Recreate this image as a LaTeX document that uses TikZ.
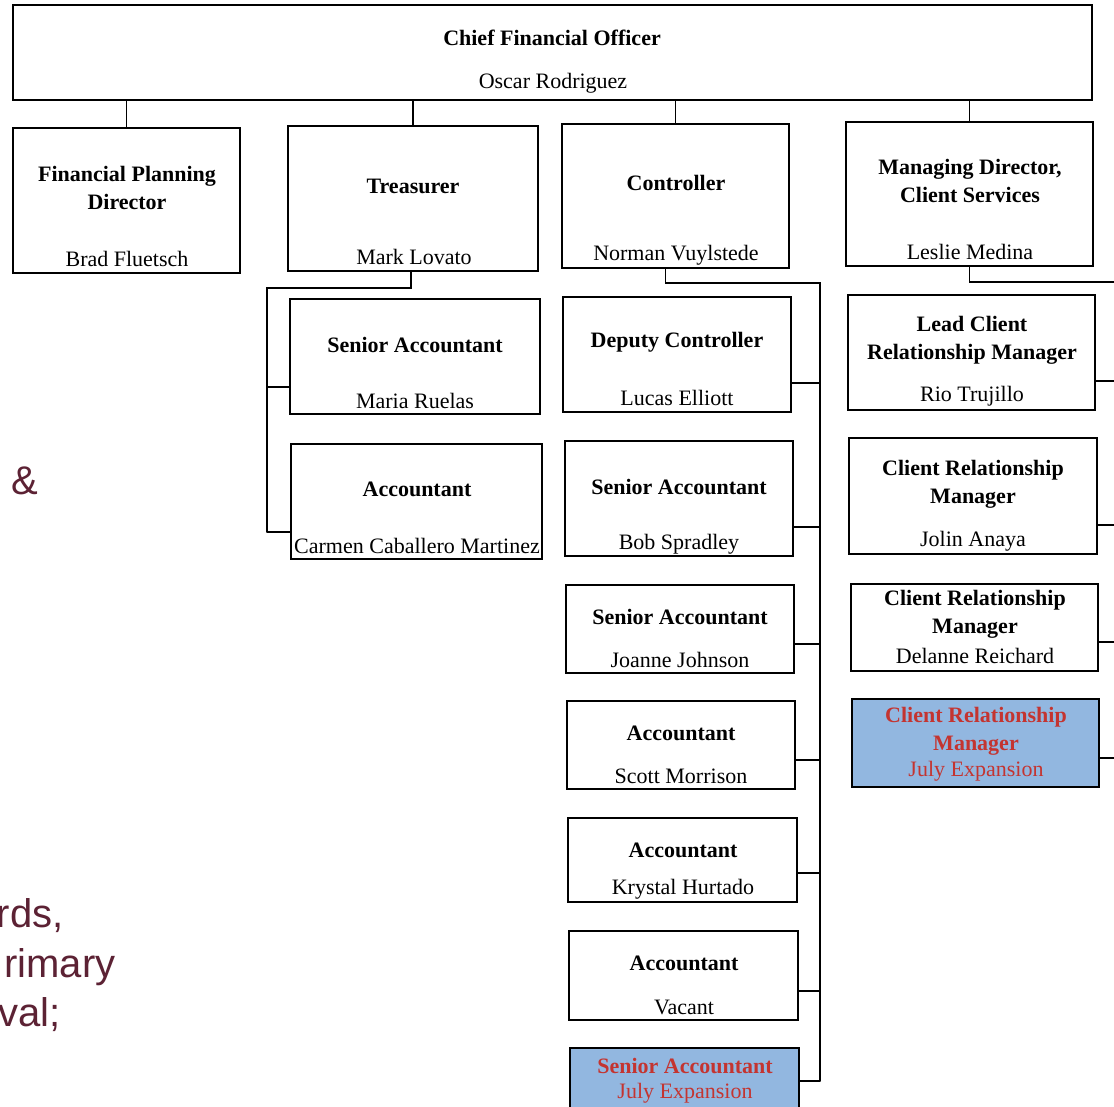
\documentclass[tikz,border=0pt]{standalone}
\usepackage{fontspec}
\setmainfont{Liberation Serif}
\newfontfamily\slidefont{Liberation Sans}

\begin{document}
\begin{tikzpicture}
[x = 1pt, y = -1pt, line cap = round,
box/.style = {draw, line width = 2pt, inner sep = 0pt},
size/.style 2 args = {minimum width = #1pt, minimum height = #2pt},
new box/.style = {box, fill = newblue},
role/.style = {font = \fontsize{22}{28}\selectfont\bfseries, align = center},
person/.style = {font = \fontsize{22}{26}\selectfont},
new role/.style = {role, text = newred},
new person/.style = {person, text = newred},
link/.style = {line width = 1.2pt},
slide text/.style = {font = \slidefont\fontsize{40}{48}\selectfont, text = slidecolor, anchor = base east}]

\definecolor{newblue}{RGB}{146, 183, 224}
\definecolor{newred}{RGB}{196, 52, 48}
\definecolor{slidecolor}{RGB}{92, 34, 52}

\useasboundingbox (0, 0) rectangle (1114, 1107);
\clip (0, 0) rectangle (1114, 1107);

% left-over slide text
\node[slide text, anchor = center] (amp) at (25, 481) {\&};
\node[slide text] (line1) at (67, 927) {rds,};
\node[slide text] (line2) at (119, 977) {rimary};
\node[slide text] (line3) at (64, 1026) {val;};

% top row
\node[box, size = {1079}{95}] (cfo) at (552.5, 52.5) {};
\node[role] (cfo-t) at (552, 38) {Chief Financial Officer};
\node[person] (cfo-n) at (553, 83) {Oscar Rodriguez};

\node[box, size = {227}{145}] (fpd) at (126.5, 200.5) {};
\node[role] (fpd-t) at (127, 188) {Financial Planning\\Director};
\node[person] (fpd-n) at (127, 259) {Brad Fluetsch};

\node[box, size = {250}{145}] (tre) at (413, 198.5) {};
\node[role] (tre-t) at (413, 186) {Treasurer};
\node[person] (tre-n) at (414, 257) {Mark Lovato};

\node[box, size = {227}{144}] (con) at (675.5, 196) {};
\node[role] (con-t) at (676, 183) {Controller};
\node[person] (con-n) at (676, 255) {Norman Vuylstede};

\node[box, size = {247}{144}] (mds) at (969.5, 194) {};
\node[role] (mds-t) at (970, 181) {Managing Director,\\Client Services};
\node[person] (mds-n) at (970, 252) {Leslie Medina};

\foreach \b in {fpd, tre, con, mds} \draw[link] (\b.north) -- (\b.north |- cfo.south);

% treasurer
\node[box, size = {250}{115}] (sa1) at (415, 356.5) {};
\node[role] (sa1-t) at (415, 345) {Senior Accountant};
\node[person] (sa1-n) at (415, 401) {Maria Ruelas};

\node[box, size = {251}{115}] (acc1) at (416.5, 501.5) {};
\node[role] (acc1-t) at (417, 489) {Accountant};
\node[person] (acc1-n) at (417, 546) {Carmen Caballero Martinez};

\coordinate (tspine) at (267, 288);
\draw[link] ([xshift = -2pt]tre.south) |- (tspine) -- ([yshift = 28pt]acc1.south west -| tspine);
\foreach \b in {sa1, acc1} \draw[link] ([yshift = 28pt]\b.south west) -- ([yshift = 28pt]\b.south west -| tspine);

% controller
\node[box, size = {228}{115}] (dep) at (677, 354.5) {};
\node[role] (dep-t) at (677, 342) {Deputy Controller};
\node[person] (dep-n) at (677, 398) {Lucas Elliott};

\node[box, size = {228}{115}] (sa2) at (679, 498.5) {};
\node[role] (sa2-t) at (679, 487) {Senior Accountant};
\node[person] (sa2-n) at (679, 544) {Bob Spradley};

\node[box, size = {228}{88}] (sa3) at (680, 629) {};
\node[role] (sa3-t) at (680, 617) {Senior Accountant};
\node[person] (sa3-n) at (680, 660) {Joanne Johnson};

\node[box, size = {228}{88}] (acc2) at (681, 745) {};
\node[role] (acc2-t) at (681, 733) {Accountant};
\node[person] (acc2-n) at (681, 776) {Scott Morrison};

\node[box, size = {229}{84}] (acc3) at (682.5, 860) {};
\node[role] (acc3-t) at (683, 850) {Accountant};
\node[person] (acc3-n) at (683, 889) {Krystal Hurtado};

\node[box, size = {229}{89}] (acc4) at (683.5, 975.5) {};
\node[role] (acc4-t) at (684, 963) {Accountant};
\node[person] (acc4-n) at (684, 1007) {Vacant};

\node[new box, size = {229}{62}] (sa4) at (684.5, 1079) {};
\node[new role] (sa4-t) at (685, 1066) {Senior Accountant};
\node[new person] (sa4-n) at (685, 1093) {July Expansion};

\coordinate (cspine) at (820, 283);
\draw[link] ([xshift = -10pt]con.south) |- (cspine) -- ([yshift = 30pt]sa4.south east -| cspine);
\foreach \b in {dep, sa2, sa3, acc2, acc3, acc4, sa4} \draw[link] ([yshift = 30pt]\b.south east) -- ([yshift = 30pt]\b.south east -| cspine);

% client services
\node[box, size = {247}{115}] (lcrm) at (971.5, 352.5) {};
\node[role] (lcrm-t) at (972, 340) {Lead Client\\Relationship Manager};
\node[person] (lcrm-n) at (972, 396) {Rio Trujillo};

\node[box, size = {248}{116}] (crm1) at (973, 496) {};
\node[role] (crm1-t) at (973, 484) {Client Relationship\\Manager};
\node[person] (crm1-n) at (973, 541) {Jolin Anaya};

\node[box, size = {247}{87}] (crm2) at (974.5, 627.5) {};
\node[role] (crm2-t) at (975, 614.5) {Client Relationship\\Manager};
\node[person] (crm2-n) at (975, 656) {Delanne Reichard};

\node[new box, size = {247}{88}] (crm3) at (975.5, 743) {};
\node[new role] (crm3-t) at (976, 731) {Client Relationship\\Manager};
\node[new person] (crm3-n) at (976, 771) {July Expansion};

\coordinate (mspine) at (1118, 282);
\draw[link] (mds.south) |- (mspine) -- ([yshift = 30pt]crm3.south east -| mspine);
\foreach \b in {lcrm, crm1, crm2, crm3} \draw[link] ([yshift = 30pt]\b.south east) -- ([yshift = 30pt]\b.south east -| mspine);
\end{tikzpicture}
\end{document}
